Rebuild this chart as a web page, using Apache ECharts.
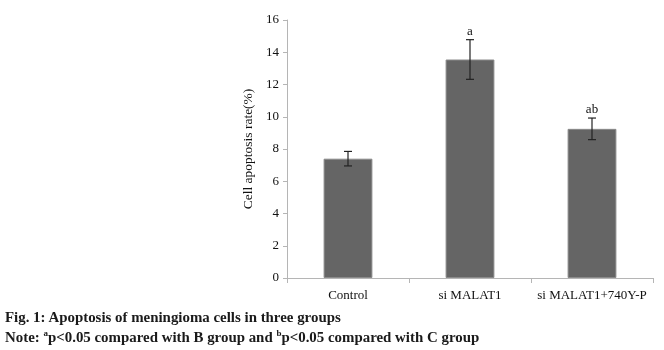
<!DOCTYPE html>
<html><head><meta charset="utf-8">
<script src="https://cdn.jsdelivr.net/npm/echarts@6/dist/echarts.min.js"></script>
<style>html,body{margin:0;padding:0;background:#fff;}#c{width:664px;height:350px;position:relative;}
.cap{position:absolute;left:5px;font-family:"Liberation Serif","Times New Roman",serif;font-weight:bold;font-size:14.9px;line-height:17px;color:#1a1a1a;white-space:nowrap;}
</style></head><body>
<div id="c"></div>
<div class="cap" style="top:309px">Fig. 1: Apoptosis of meningioma cells in three groups</div>
<div class="cap" style="top:329px">Note: <sup style="font-size:9px;line-height:0">a</sup>p&lt;0.05 compared with B group and <sup style="font-size:9px;line-height:0">b</sup>p&lt;0.05 compared with C group</div>
<script>
const categories = ['Control', 'si MALAT1', 'si MALAT1+740Y-P'];
const values = [7.4, 13.55, 9.25];
const errors = [0.45, 1.23, 0.67];
const marks = ['', 'a', 'ab'];
const yTicks = [0, 2, 4, 6, 8, 10, 12, 14, 16];

const chart = echarts.init(document.getElementById('c'));
const font = '"Liberation Serif","Times New Roman",serif';
chart.setOption({
  animation: false,
  grid: {left: 287, right: 11, top: 20, bottom: 72, containLabel: false},
  xAxis: {
    type: 'category', data: categories, boundaryGap: true,
    axisLine: {lineStyle: {color: '#b5b5b5', width: 1}},
    axisTick: {show: true, length: 5, lineStyle: {color: '#b5b5b5'}},
    axisLabel: {color: '#111', fontFamily: font, fontSize: 13, margin: 11, interval: 0}
  },
  yAxis: {
    type: 'value', min: yTicks[0], max: yTicks[yTicks.length-1], interval: 2,
    name: 'Cell apoptosis rate(%)', nameLocation: 'middle', nameGap: 25,
    nameTextStyle: {color: '#111', fontFamily: font, fontSize: 13.5},
    axisLine: {show: true, lineStyle: {color: '#b5b5b5'}},
    axisTick: {show: true, length: 4, lineStyle: {color: '#b5b5b5'}},
    splitLine: {show: false},
    axisLabel: {color: '#111', fontFamily: font, fontSize: 13, margin: 8}
  },
  series: [
    {
      type: 'bar', data: values, barWidth: '40%',
      itemStyle: {color: '#656565', borderColor: '#8a8a8a', borderWidth: 1}
    },
    {
      type: 'custom',
      data: values.map((v, i) => [i, v - errors[i], v + errors[i]]),
      renderItem: function (params, api) {
        const x = api.value(0);
        const lo = api.coord([x, api.value(1)]);
        const hi = api.coord([x, api.value(2)]);
        const hw = 4;
        const st = {stroke: '#222', lineWidth: 1.2};
        const children = [
          {type: 'line', shape: {x1: lo[0], y1: lo[1], x2: hi[0], y2: hi[1]}, style: st},
          {type: 'line', shape: {x1: lo[0]-hw, y1: lo[1], x2: lo[0]+hw, y2: lo[1]}, style: st},
          {type: 'line', shape: {x1: hi[0]-hw, y1: hi[1], x2: hi[0]+hw, y2: hi[1]}, style: st}
        ];
        const m = marks[params.dataIndex];
        if (m) {
          children.push({type: 'text', style: {text: m, x: hi[0], y: hi[1]-2, align: 'center', verticalAlign: 'bottom', fill: '#111', font: '13px ' + font}});
        }
        return {type: 'group', children: children};
      },
      z: 10
    }
  ]
});
</script>
</body></html>
